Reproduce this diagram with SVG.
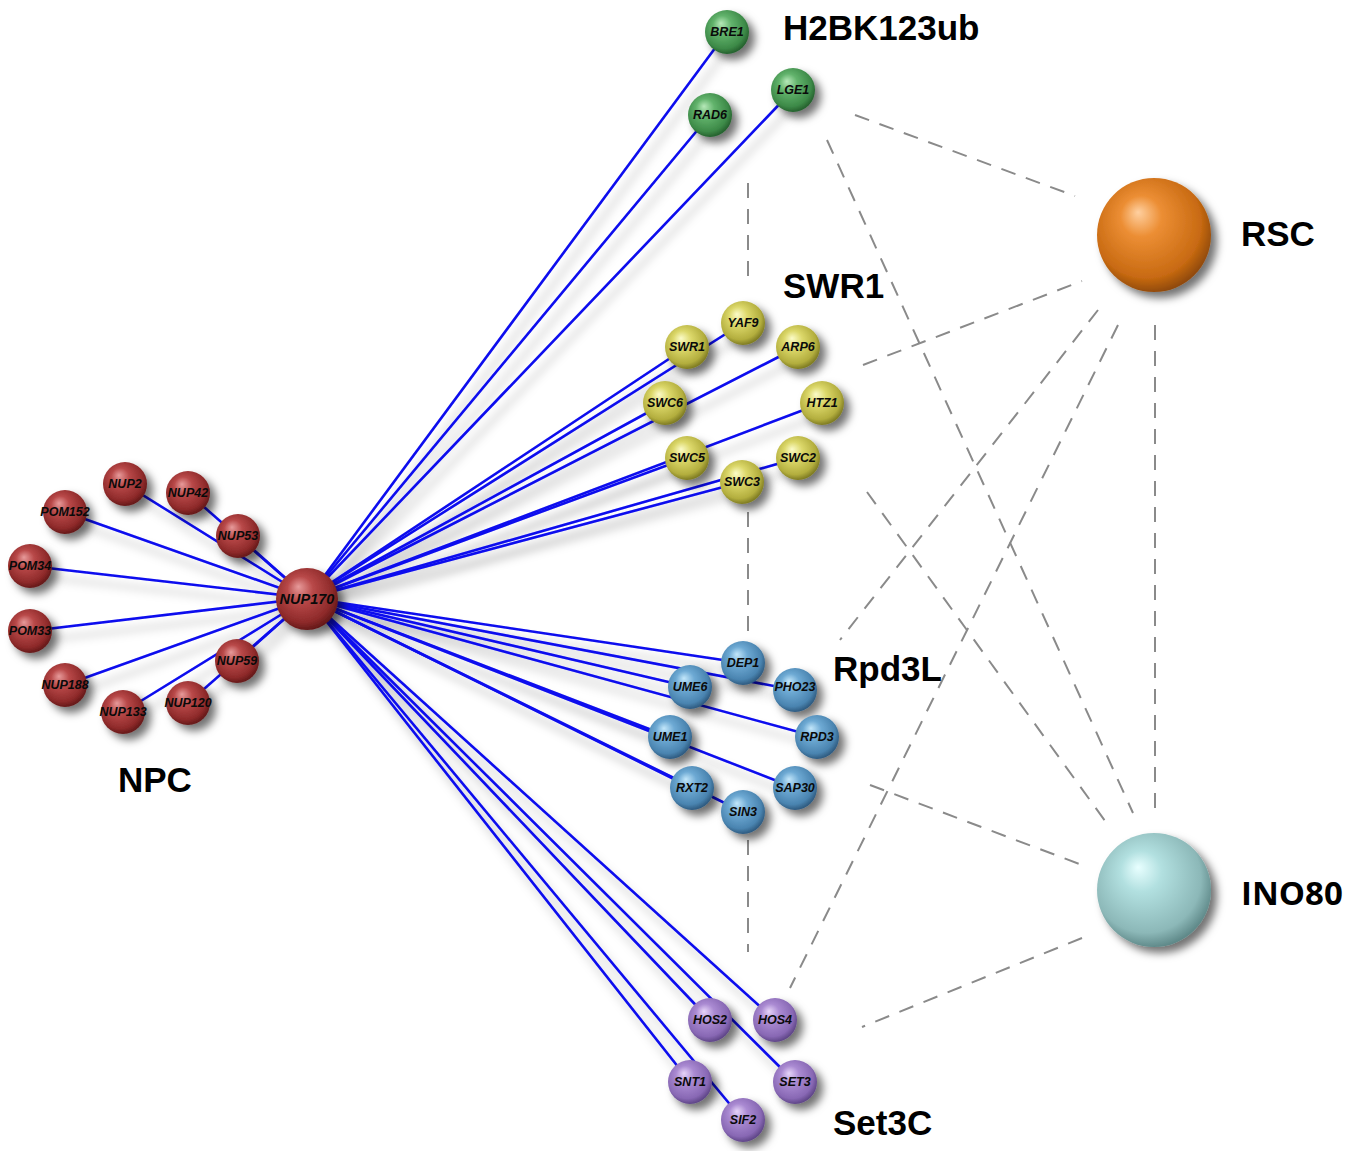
<svg xmlns="http://www.w3.org/2000/svg" width="1363" height="1151" viewBox="0 0 1363 1151">
<style>
.edge{stroke:#0a0aee;stroke-width:2.6;fill:none;stroke-linecap:round}
.dash{stroke:#8a8a8a;stroke-width:2;stroke-dasharray:15 11;fill:none}
.nl{font-family:"Liberation Sans",Arial,sans-serif;font-weight:bold;font-style:italic;font-size:12.5px;text-anchor:middle;fill:#0a0a0a}
.gl{font-family:"Liberation Sans",Arial,sans-serif;font-weight:bold;font-size:35px;fill:#000}
.sph{filter:url(#sh)}
</style>
<defs>
<filter id="sh" x="-40%" y="-40%" width="200%" height="200%">
<feGaussianBlur in="SourceAlpha" stdDeviation="4"/>
<feOffset dx="6" dy="6" result="b"/>
<feFlood flood-color="#000" flood-opacity="0.55"/>
<feComposite in2="b" operator="in"/>
<feMerge><feMergeNode/><feMergeNode in="SourceGraphic"/></feMerge>
</filter>
<filter id="esh" x="-10%" y="-10%" width="120%" height="120%">
<feGaussianBlur in="SourceAlpha" stdDeviation="5"/>
<feOffset dx="6" dy="10" result="b"/>
<feFlood flood-color="#000" flood-opacity="0.28"/>
<feComposite in2="b" operator="in"/>
<feMerge><feMergeNode/><feMergeNode in="SourceGraphic"/></feMerge>
</filter>
<radialGradient id="gRed" cx="0.45" cy="0.42" r="0.6" fx="0.36" fy="0.3">
<stop offset="0" stop-color="#e79a9a"/><stop offset="0.35" stop-color="#b84848"/><stop offset="0.8" stop-color="#8e2a2a"/><stop offset="1" stop-color="#5e1616"/>
</radialGradient>
<radialGradient id="gGreen" cx="0.45" cy="0.42" r="0.6" fx="0.36" fy="0.3">
<stop offset="0" stop-color="#b6e8b8"/><stop offset="0.35" stop-color="#62b36c"/><stop offset="0.8" stop-color="#3d8a48"/><stop offset="1" stop-color="#225a2a"/>
</radialGradient>
<radialGradient id="gYellow" cx="0.45" cy="0.42" r="0.6" fx="0.36" fy="0.3">
<stop offset="0" stop-color="#fbfbc8"/><stop offset="0.35" stop-color="#dcd86a"/><stop offset="0.8" stop-color="#b3ae3e"/><stop offset="1" stop-color="#76731e"/>
</radialGradient>
<radialGradient id="gBlue" cx="0.45" cy="0.42" r="0.6" fx="0.36" fy="0.3">
<stop offset="0" stop-color="#c2e6fa"/><stop offset="0.35" stop-color="#6eaad4"/><stop offset="0.8" stop-color="#4a84b0"/><stop offset="1" stop-color="#2a5478"/>
</radialGradient>
<radialGradient id="gPurple" cx="0.45" cy="0.42" r="0.6" fx="0.36" fy="0.3">
<stop offset="0" stop-color="#e6d4f8"/><stop offset="0.35" stop-color="#aa8ad2"/><stop offset="0.8" stop-color="#8868b4"/><stop offset="1" stop-color="#584080"/>
</radialGradient>
<radialGradient id="gOrange" cx="0.45" cy="0.42" r="0.6" fx="0.36" fy="0.3">
<stop offset="0" stop-color="#ffd0a0"/><stop offset="0.3" stop-color="#ec8e34"/><stop offset="0.8" stop-color="#c86a12"/><stop offset="1" stop-color="#8a4608"/>
</radialGradient>
<radialGradient id="gCyan" cx="0.45" cy="0.42" r="0.6" fx="0.36" fy="0.3">
<stop offset="0" stop-color="#e8ffff"/><stop offset="0.3" stop-color="#b2e0e0"/><stop offset="0.8" stop-color="#8cb8b8"/><stop offset="1" stop-color="#5a8484"/>
</radialGradient>
</defs>
<rect width="1363" height="1151" fill="#fff"/>

<g id="connectors">
<g id="dashed">
<line class="dash" x1="855" y1="115" x2="1075" y2="196"/>
<line class="dash" x1="827" y1="140" x2="1133" y2="813"/>
<line class="dash" x1="748" y1="183" x2="748" y2="280"/>
<line class="dash" x1="748" y1="512" x2="748" y2="640"/>
<line class="dash" x1="748" y1="840" x2="748" y2="952"/>
<line class="dash" x1="863" y1="365" x2="1082" y2="281"/>
<line class="dash" x1="867" y1="492" x2="1108" y2="825"/>
<line class="dash" x1="1098" y1="310" x2="840" y2="640"/>
<line class="dash" x1="1118" y1="325" x2="790" y2="988"/>
<line class="dash" x1="870" y1="785" x2="1082" y2="865"/>
<line class="dash" x1="1082" y1="938" x2="862" y2="1027"/>
<line class="dash" x1="1155" y1="325" x2="1155" y2="813"/>
</g>
<g id="edges" filter="url(#esh)">
<line class="edge" x1="308" y1="598" x2="125" y2="484"/>
<line class="edge" x1="308" y1="598" x2="188" y2="493"/>
<line class="edge" x1="308" y1="598" x2="238" y2="536"/>
<line class="edge" x1="308" y1="598" x2="65" y2="512"/>
<line class="edge" x1="308" y1="598" x2="30" y2="566"/>
<line class="edge" x1="308" y1="598" x2="30" y2="631"/>
<line class="edge" x1="308" y1="598" x2="65" y2="685"/>
<line class="edge" x1="308" y1="598" x2="123" y2="712"/>
<line class="edge" x1="308" y1="598" x2="188" y2="703"/>
<line class="edge" x1="308" y1="598" x2="237" y2="661"/>
<line class="edge" x1="308" y1="598" x2="727" y2="32"/>
<line class="edge" x1="308" y1="598" x2="710" y2="115"/>
<line class="edge" x1="308" y1="598" x2="793" y2="90"/>
<line class="edge" x1="308" y1="598" x2="743" y2="323"/>
<line class="edge" x1="308" y1="598" x2="687" y2="347"/>
<line class="edge" x1="308" y1="598" x2="798" y2="347"/>
<line class="edge" x1="308" y1="598" x2="665" y2="403"/>
<line class="edge" x1="308" y1="598" x2="822" y2="403"/>
<line class="edge" x1="308" y1="598" x2="687" y2="458"/>
<line class="edge" x1="308" y1="598" x2="798" y2="458"/>
<line class="edge" x1="308" y1="598" x2="742" y2="482"/>
<line class="edge" x1="308" y1="598" x2="743" y2="663"/>
<line class="edge" x1="308" y1="598" x2="690" y2="687"/>
<line class="edge" x1="308" y1="598" x2="795" y2="690"/>
<line class="edge" x1="308" y1="598" x2="670" y2="737"/>
<line class="edge" x1="308" y1="598" x2="817" y2="737"/>
<line class="edge" x1="308" y1="598" x2="692" y2="788"/>
<line class="edge" x1="308" y1="598" x2="795" y2="788"/>
<line class="edge" x1="308" y1="598" x2="743" y2="812"/>
<line class="edge" x1="308" y1="598" x2="710" y2="1020"/>
<line class="edge" x1="308" y1="598" x2="775" y2="1020"/>
<line class="edge" x1="308" y1="598" x2="690" y2="1082"/>
<line class="edge" x1="308" y1="598" x2="795" y2="1082"/>
<line class="edge" x1="308" y1="598" x2="743" y2="1120"/>
</g>
</g>

<g id="nodes">
<g id="node-NUP2"><circle class="sph" cx="125" cy="484" r="22" fill="url(#gRed)"/><text class="nl" x="125" y="488">NUP2</text></g>
<g id="node-NUP42"><circle class="sph" cx="188" cy="493" r="22" fill="url(#gRed)"/><text class="nl" x="188" y="497">NUP42</text></g>
<g id="node-NUP53"><circle class="sph" cx="238" cy="536" r="22" fill="url(#gRed)"/><text class="nl" x="238" y="540">NUP53</text></g>
<g id="node-POM152"><circle class="sph" cx="65" cy="512" r="22" fill="url(#gRed)"/><text class="nl" x="65" y="516">POM152</text></g>
<g id="node-POM34"><circle class="sph" cx="30" cy="566" r="22" fill="url(#gRed)"/><text class="nl" x="30" y="570">POM34</text></g>
<g id="node-POM33"><circle class="sph" cx="30" cy="631" r="22" fill="url(#gRed)"/><text class="nl" x="30" y="635">POM33</text></g>
<g id="node-NUP188"><circle class="sph" cx="65" cy="685" r="22" fill="url(#gRed)"/><text class="nl" x="65" y="689">NUP188</text></g>
<g id="node-NUP133"><circle class="sph" cx="123" cy="712" r="22" fill="url(#gRed)"/><text class="nl" x="123" y="716">NUP133</text></g>
<g id="node-NUP120"><circle class="sph" cx="188" cy="703" r="22" fill="url(#gRed)"/><text class="nl" x="188" y="707">NUP120</text></g>
<g id="node-NUP59"><circle class="sph" cx="237" cy="661" r="22" fill="url(#gRed)"/><text class="nl" x="237" y="665">NUP59</text></g>
<g id="node-NUP170"><circle class="sph" cx="307" cy="599" r="31" fill="url(#gRed)"/><text class="nl" x="307" y="604" style="font-size:14.5px">NUP170</text></g>

<g id="node-BRE1"><circle class="sph" cx="727" cy="32" r="22" fill="url(#gGreen)"/><text class="nl" x="727" y="36">BRE1</text></g>
<g id="node-RAD6"><circle class="sph" cx="710" cy="115" r="22" fill="url(#gGreen)"/><text class="nl" x="710" y="119">RAD6</text></g>
<g id="node-LGE1"><circle class="sph" cx="793" cy="90" r="22" fill="url(#gGreen)"/><text class="nl" x="793" y="94">LGE1</text></g>

<g id="node-YAF9"><circle class="sph" cx="743" cy="323" r="22" fill="url(#gYellow)"/><text class="nl" x="743" y="327">YAF9</text></g>
<g id="node-SWR1"><circle class="sph" cx="687" cy="347" r="22" fill="url(#gYellow)"/><text class="nl" x="687" y="351">SWR1</text></g>
<g id="node-ARP6"><circle class="sph" cx="798" cy="347" r="22" fill="url(#gYellow)"/><text class="nl" x="798" y="351">ARP6</text></g>
<g id="node-SWC6"><circle class="sph" cx="665" cy="403" r="22" fill="url(#gYellow)"/><text class="nl" x="665" y="407">SWC6</text></g>
<g id="node-HTZ1"><circle class="sph" cx="822" cy="403" r="22" fill="url(#gYellow)"/><text class="nl" x="822" y="407">HTZ1</text></g>
<g id="node-SWC5"><circle class="sph" cx="687" cy="458" r="22" fill="url(#gYellow)"/><text class="nl" x="687" y="462">SWC5</text></g>
<g id="node-SWC2"><circle class="sph" cx="798" cy="458" r="22" fill="url(#gYellow)"/><text class="nl" x="798" y="462">SWC2</text></g>
<g id="node-SWC3"><circle class="sph" cx="742" cy="482" r="22" fill="url(#gYellow)"/><text class="nl" x="742" y="486">SWC3</text></g>

<g id="node-DEP1"><circle class="sph" cx="743" cy="663" r="22" fill="url(#gBlue)"/><text class="nl" x="743" y="667">DEP1</text></g>
<g id="node-UME6"><circle class="sph" cx="690" cy="687" r="22" fill="url(#gBlue)"/><text class="nl" x="690" y="691">UME6</text></g>
<g id="node-PHO23"><circle class="sph" cx="795" cy="690" r="22" fill="url(#gBlue)"/><text class="nl" x="795" y="691">PHO23</text></g>
<g id="node-UME1"><circle class="sph" cx="670" cy="737" r="22" fill="url(#gBlue)"/><text class="nl" x="670" y="741">UME1</text></g>
<g id="node-RPD3"><circle class="sph" cx="817" cy="737" r="22" fill="url(#gBlue)"/><text class="nl" x="817" y="741">RPD3</text></g>
<g id="node-RXT2"><circle class="sph" cx="692" cy="788" r="22" fill="url(#gBlue)"/><text class="nl" x="692" y="792">RXT2</text></g>
<g id="node-SAP30"><circle class="sph" cx="795" cy="788" r="22" fill="url(#gBlue)"/><text class="nl" x="795" y="792">SAP30</text></g>
<g id="node-SIN3"><circle class="sph" cx="743" cy="812" r="22" fill="url(#gBlue)"/><text class="nl" x="743" y="816">SIN3</text></g>

<g id="node-HOS2"><circle class="sph" cx="710" cy="1020" r="22" fill="url(#gPurple)"/><text class="nl" x="710" y="1024">HOS2</text></g>
<g id="node-HOS4"><circle class="sph" cx="775" cy="1020" r="22" fill="url(#gPurple)"/><text class="nl" x="775" y="1024">HOS4</text></g>
<g id="node-SNT1"><circle class="sph" cx="690" cy="1082" r="22" fill="url(#gPurple)"/><text class="nl" x="690" y="1086">SNT1</text></g>
<g id="node-SET3"><circle class="sph" cx="795" cy="1082" r="22" fill="url(#gPurple)"/><text class="nl" x="795" y="1086">SET3</text></g>
<g id="node-SIF2"><circle class="sph" cx="743" cy="1120" r="22" fill="url(#gPurple)"/><text class="nl" x="743" y="1124">SIF2</text></g>

<g id="node-RSC"><circle class="sph" cx="1154" cy="235" r="57" fill="url(#gOrange)"/><text class="gl" x="1241" y="246">RSC</text></g>
<g id="node-INO80"><circle class="sph" cx="1154" cy="890" r="57" fill="url(#gCyan)"/><text class="gl" x="1241" y="905" style="font-family:'Open Sans','Liberation Sans',sans-serif;font-size:33px">INO80</text></g>
</g>

<g id="labels">
<text class="gl" x="783" y="40">H2BK123ub</text>
<text class="gl" x="783" y="298">SWR1</text>
<text class="gl" x="833" y="681">Rpd3L</text>
<text class="gl" x="118" y="792">NPC</text>
<text class="gl" x="833" y="1135">Set3C</text>
</g>
</svg>
